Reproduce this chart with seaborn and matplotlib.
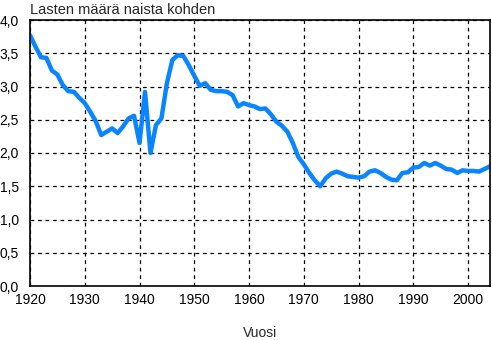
import matplotlib
matplotlib.use("Agg")
import matplotlib.pyplot as plt
import seaborn as sns
import pandas as pd
from matplotlib.ticker import MultipleLocator, FuncFormatter

years = list(range(1920, 2005))
tfr = [3.77, 3.60, 3.44, 3.43, 3.24, 3.18, 3.02, 2.93, 2.92, 2.83,
       2.75, 2.62, 2.48, 2.27, 2.32, 2.37, 2.30, 2.40, 2.52, 2.56,
       2.15, 2.92, 2.00, 2.42, 2.52, 3.05, 3.40, 3.47, 3.46, 3.32,
       3.16, 3.01, 3.05, 2.95, 2.93, 2.93, 2.92, 2.87, 2.70, 2.75,
       2.72, 2.70, 2.66, 2.67, 2.58, 2.47, 2.41, 2.32, 2.15, 1.94,
       1.83, 1.70, 1.59, 1.50, 1.62, 1.69, 1.72, 1.69, 1.65, 1.64,
       1.63, 1.65, 1.72, 1.74, 1.70, 1.64, 1.60, 1.59, 1.70, 1.71,
       1.78, 1.79, 1.85, 1.81, 1.85, 1.81, 1.76, 1.75, 1.70, 1.74,
       1.73, 1.73, 1.72, 1.76, 1.80]
title = "Lasten määrä naista kohden"
xlabel = "Vuosi"

df = pd.DataFrame({"year": years, "tfr": tfr})

sns.set_style("white")
plt.rcParams['font.family'] = ['Liberation Sans', 'DejaVu Sans']

fig = plt.figure(figsize=(4.92, 3.40), dpi=100)
ax = fig.add_axes([30/492, 1-286/340, 460/492, 266/340])
sns.lineplot(data=df, x="year", y="tfr", ax=ax, color="#0a84ff", linewidth=3.2)

ax.set_xlim(1920, 2004)
ax.set_ylim(0, 4.0)
ax.xaxis.set_major_locator(MultipleLocator(10))
ax.xaxis.set_minor_locator(MultipleLocator(1))
ax.yaxis.set_major_locator(MultipleLocator(0.5))
ax.yaxis.set_major_formatter(FuncFormatter(lambda v, p: f"{v:.1f}".replace(".", ",")))
ax.grid(True, which="major", color="black", linestyle=(0, (3, 3)), linewidth=0.9)
ax.tick_params(axis="x", which="major", direction="in", length=6, width=1, labelsize=10, pad=5, colors="black")
ax.tick_params(axis="x", which="minor", direction="in", length=3, width=0.8)
ax.tick_params(axis="y", which="major", length=0, labelsize=10, pad=8, colors="black")
for s in ax.spines.values():
    s.set_visible(True)
    s.set_color("black")
    s.set_linewidth(1.2)
ax.set_xlabel(xlabel, fontsize=10, labelpad=14)
ax.set_ylabel("")
fig.text(30/492, 1-10/340, title, fontsize=10.5, va="center", ha="left")
fig.savefig("out.png", dpi=100)
